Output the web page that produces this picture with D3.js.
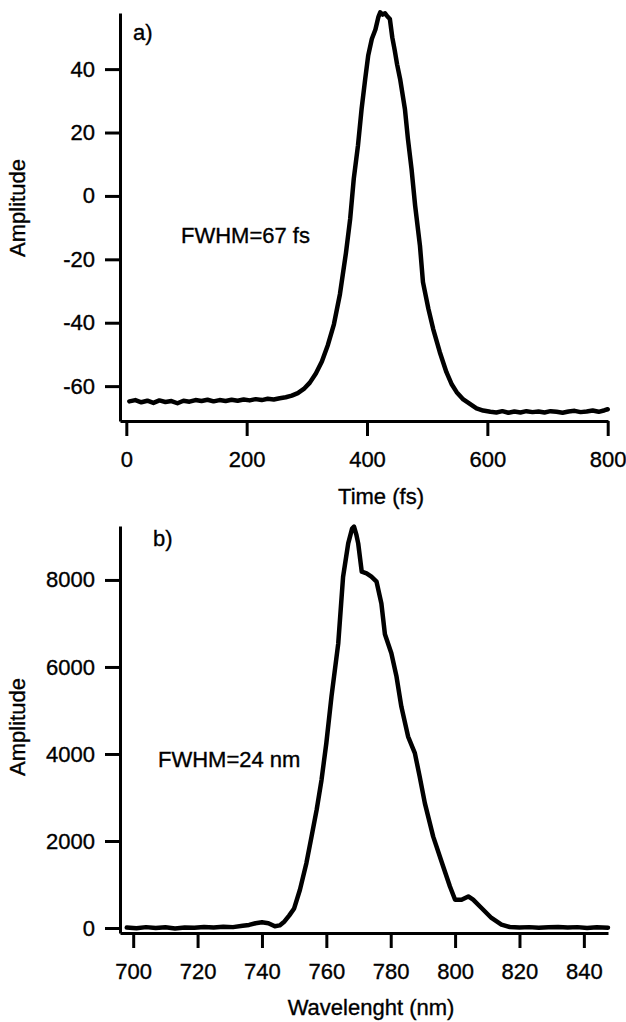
<!DOCTYPE html>
<html>
<head>
<meta charset="utf-8">
<script src="https://cdn.jsdelivr.net/npm/d3@7"></script>
<style>
  body { margin: 0; background: #fff; }
  svg text { font-family: "Liberation Sans", Arial, sans-serif; fill: #000; stroke: #000; stroke-width: 0.35px; }
</style>
</head>
<body>
<div id="chart"></div>
<script>
// panel a) autocorrelation trace
let timeFs = [5, 15, 25, 35, 45, 55, 65, 75, 85, 95, 105, 115, 125, 135, 145, 155, 165, 175, 185, 195,
  205, 215, 225, 235, 245, 255, 265, 275, 285, 295, 305, 315, 325, 335, 345, 355, 365, 372, 378, 385,
  391, 397, 402, 408, 414, 419, 422, 426, 430, 434, 438, 442, 446, 450, 455, 463, 468, 474, 480, 488,
  493, 502, 510, 521, 532, 541, 549, 560, 571, 582, 593, 605, 615, 625, 635, 645, 655, 665, 675, 685,
  695, 705, 715, 725, 735, 745, 755, 765, 775, 785, 795, 800];
let timeAmp = [-64.8, -64.4, -65.1, -64.6, -65.3, -64.5, -65.0, -64.7, -65.4, -64.6, -64.9, -64.4, -64.7, -64.3, -64.8, -64.4, -64.7, -64.3, -64.6, -64.2,
  -64.5, -64.1, -64.4, -64.0, -64.2, -63.8, -63.5, -63.0, -62.2, -60.9, -58.9, -56.0, -52.2, -47.0, -40.5, -31.0, -18.0, -7.3, 5.4, 15.9,
  27.4, 36.9, 44.3, 49.5, 52.5, 56.5, 57.9, 57.2, 57.6, 56.6, 55.8, 50.0, 46.0, 41.5, 36.9, 27.4, 18.0, 8.5, -3.1, -15.7,
  -27.2, -35.6, -42.0, -49.3, -55.6, -59.5, -61.9, -64.2, -65.6, -67.0, -67.7, -68.1, -68.3, -67.9, -68.4, -68.0, -68.3, -67.9, -68.2, -68.0,
  -68.3, -67.9, -68.1, -68.4, -68.0, -67.8, -68.2, -68.0, -67.7, -68.1, -67.6, -67.3];
let timeTicks = [0, 200, 400, 600, 800];
let timeAmpTicks = [-60, -40, -20, 0, 20, 40];

// panel b) spectrum
let wavelengthNm = [698, 701, 704, 707, 710, 713, 716, 719, 722, 725, 728, 731, 734, 736, 738, 740, 742, 744, 745.5, 747,
  748.5, 750, 751.8, 753.8, 755.4, 757, 758.5, 760, 761.6, 763.7, 765.2, 766.8, 768, 768.6, 769.3, 769.9, 771, 772.5, 774, 775.6,
  777.1, 778.2, 780.2, 781.8, 783.3, 785.4, 787.5, 789, 790.6, 793.2, 796.3, 798.4, 800, 802, 804.1, 805.6, 808.2, 811.3, 814.4, 817,
  820, 823, 826, 829, 832, 835, 838, 841, 844, 847.5];
let specAmp = [10, -5, 20, 0, 15, -10, 10, 5, 25, 10, 30, 20, 50, 70, 110, 130, 110, 40, 60, 150,
  290, 450, 880, 1490, 2100, 2720, 3400, 4250, 5320, 6540, 8070, 8840, 9180, 9225, 9050, 8840, 8190, 8150, 8075, 7960,
  7460, 6750, 6315, 5780, 5090, 4400, 4020, 3480, 2870, 2100, 1415, 955, 650, 650, 725, 650, 460, 230, 76, 23,
  10, 20, 5, 15, 25, 10, 20, 0, 15, 5];
let specTicks = [700, 720, 740, 760, 780, 800, 820, 840];
let specAmpTicks = [0, 2000, 4000, 6000, 8000];

let width = 626, height = 1022;
let font_size = 22;

let svg = d3.select("#chart").append("svg")
  .attr("width", width)
  .attr("height", height);

function draw_panel(opt) {
  let x = d3.scaleLinear().domain(opt.xdom).range([120, 608]);
  let y = d3.scaleLinear().domain(opt.ydom).range([opt.bottom, opt.top]);
  let g = svg.append("g");

  let xAxis = g.append("g")
    .attr("transform", "translate(0," + opt.bottom + ")")
    .call(d3.axisBottom(x).tickValues(opt.xticks).tickSize(15).tickSizeOuter(0)
      .tickPadding(15).tickFormat(d => String(d)));
  let yAxis = g.append("g")
    .attr("transform", "translate(120,0)")
    .call(d3.axisLeft(y).tickValues(opt.yticks).tickSize(15).tickSizeOuter(0)
      .tickPadding(10).tickFormat(d => String(d)));

  [xAxis, yAxis].forEach(a => {
    a.select(".domain").attr("stroke", "#000").attr("stroke-width", 3);
    a.selectAll(".tick line").attr("stroke", "#000").attr("stroke-width", 3);
    a.selectAll(".tick text").style("font-size", font_size + "px")
      .style("font-family", "'Liberation Sans', Arial, sans-serif").attr("fill", "#000");
  });

  let line = d3.line().x(d => x(d[0])).y(d => y(d[1]));
  g.append("path")
    .datum(opt.xs.map((v, i) => [v, opt.ys[i]]))
    .attr("d", line)
    .attr("fill", "none")
    .attr("stroke", "#000")
    .attr("stroke-width", 4.5)
    .attr("stroke-linejoin", "round")
    .attr("stroke-linecap", "round");

  g.append("text")
    .attr("transform", "translate(25," + opt.ylabelY + ") rotate(-90)")
    .attr("text-anchor", "middle")
    .style("font-size", font_size + "px")
    .text("Amplitude");
  g.append("text")
    .attr("x", opt.xlabelX).attr("y", opt.xlabelBase)
    .attr("text-anchor", "middle")
    .style("font-size", font_size + "px")
    .text(opt.xlabel);
  g.append("text")
    .attr("x", opt.tagX).attr("y", opt.tagY)
    .style("font-size", font_size + "px")
    .text(opt.tag);
  g.append("text")
    .attr("x", opt.noteX).attr("y", opt.noteY)
    .style("font-size", font_size + "px")
    .text(opt.note);
}

draw_panel({
  xs: timeFs, ys: timeAmp,
  xdom: [-10.5, 800.5], ydom: [-71, 57.7],
  top: 13, bottom: 421,
  xticks: timeTicks, yticks: timeAmpTicks,
  xlabel: "Time (fs)", xlabelX: 381, xlabelBase: 504,
  ylabelY: 208,
  tag: "a)", tagX: 133, tagY: 40,
  note: "FWHM=67 fs", noteX: 181, noteY: 243
});

draw_panel({
  xs: wavelengthNm, ys: specAmp,
  xdom: [695.9, 847.5], ydom: [-115, 9240],
  top: 526, bottom: 933,
  xticks: specTicks, yticks: specAmpTicks,
  xlabel: "Wavelenght (nm)", xlabelX: 371, xlabelBase: 1015,
  ylabelY: 727,
  tag: "b)", tagX: 153, tagY: 546,
  note: "FWHM=24 nm", noteX: 158, noteY: 767
});
</script>
</body>
</html>
